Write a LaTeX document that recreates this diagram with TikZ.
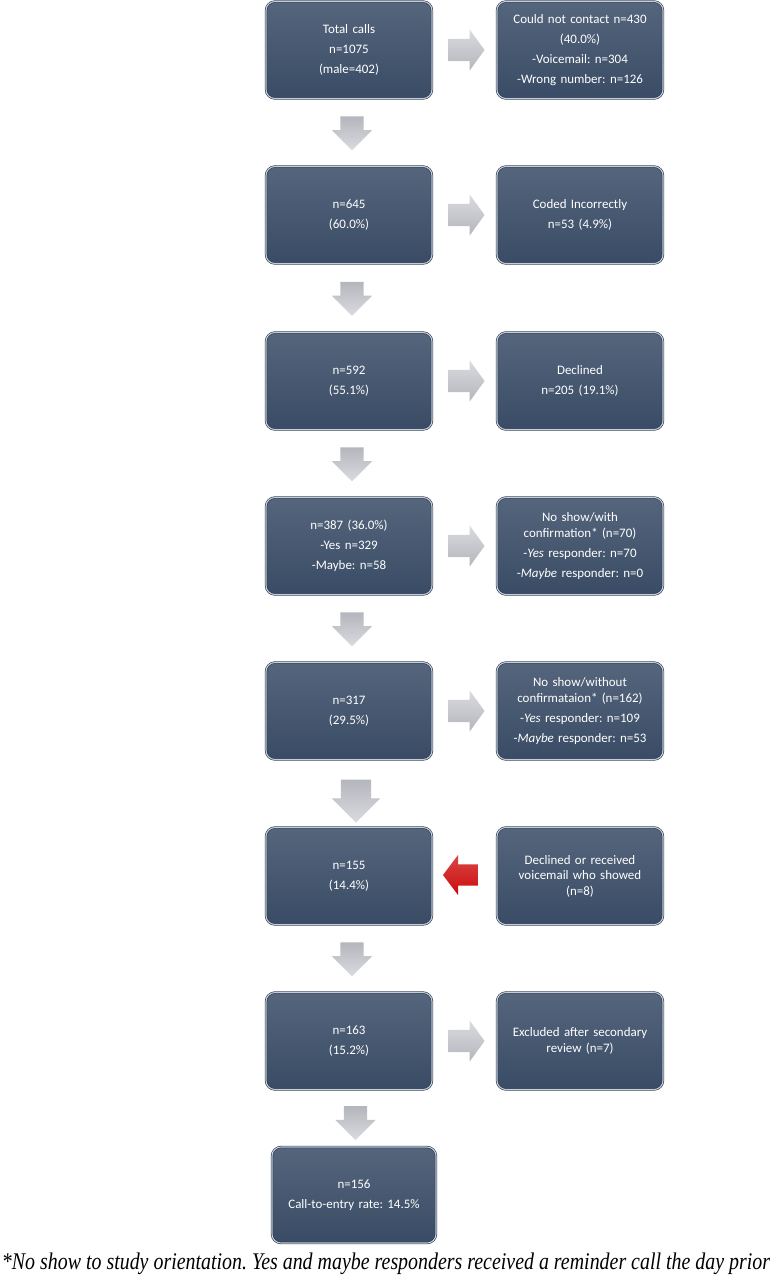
\documentclass[tikz,border=0pt]{standalone}
\usepackage{fontspec}
\setmainfont{Carlito}
\newfontfamily\notefont{Liberation Serif}
\usepackage{tikz}
\usetikzlibrary{shapes.arrows, calc, positioning}
\frenchspacing

\definecolor{boxtop}{RGB}{84,101,124}
\definecolor{boxbot}{RGB}{58,76,101}
\definecolor{boxrim}{RGB}{38,52,74}
\definecolor{boxshine}{RGB}{196,206,218}
\definecolor{arrlight}{RGB}{218,219,223}
\definecolor{arrdark}{RGB}{180,182,189}
\definecolor{arrred}{RGB}{204,10,10}

\begin{document}
\begin{tikzpicture}[x=1bp, y=-1bp,
  box/.style={rounded corners=9bp, top color=boxtop, bottom color=boxbot,
    draw=boxrim, double=boxshine, double distance=1.1bp, line width=0.6bp,
    minimum width=166bp, minimum height=97bp, text width=158bp, align=center,
    text=white, inner sep=0pt, font=\fontsize{13}{15.5}\selectfont},
  rarrow/.style={single arrow, inner xsep=0pt, inner ysep=11bp, minimum height=36bp,
    single arrow head extend=9.5bp, single arrow tip angle=108,
    top color=arrlight, bottom color=arrdark},
  darrow/.style={single arrow, rotate=-90, inner xsep=0pt, inner ysep=11.5bp,
    minimum height=34bp, single arrow head extend=8.5bp, single arrow tip angle=90,
    top color=arrdark, bottom color=arrlight},
  redarrow/.style={single arrow, rotate=180, inner xsep=0pt, inner ysep=10.5bp,
    minimum height=35bp, single arrow head extend=9.5bp, single arrow tip angle=106,
    top color=arrred!75, bottom color=arrred}
]
  \useasboundingbox (0,0) rectangle (772,1280);

  % main column
  \node[box] (l1) at (349,50) {Total calls\\[4.5bp]n=1075\\[4.5bp](male=402)};
  \node[box] (l2) at (349,215) {n=645\\[4.5bp](60.0\%)};
  \node[box] (l3) at (349,381) {n=592\\[4.5bp](55.1\%)};
  \node[box] (l4) at (349,546) {n=387 (36.0\%)\\[4.5bp]-Yes n=329\\[4.5bp]-Maybe: n=58};
  \node[box] (l5) at (349,711) {n=317\\[4.5bp](29.5\%)};
  \node[box] (l6) at (349,876) {n=155\\[4.5bp](14.4\%)};
  \node[box] (l7) at (349,1041) {n=163\\[4.5bp](15.2\%)};
  \node[box, minimum width=164bp, minimum height=96bp] (fin) at (354,1195)
    {n=156\\[4.5bp]Call-to-entry rate: 14.5\%};

  % side column
  \node[box] (r1) at (580,50) {Could not contact n=430\\[4.5bp](40.0\%)\\[4.5bp]-Voicemail: n=304\\[4.5bp]-Wrong number: n=126};
  \node[box] (r2) at (580,215) {Coded Incorrectly\\[4.5bp]n=53 (4.9\%)};
  \node[box] (r3) at (580,381) {Declined\\[4.5bp]n=205 (19.1\%)};
  \node[box] (r4) at (580,546) {No show/with\\confirmation* (n=70)\\[4.5bp]-\textit{Yes} responder: n=70\\[4.5bp]-\textit{Maybe} responder: n=0};
  \node[box] (r5) at (580,711) {No show/without\\confirmataion* (n=162)\\[4.5bp]-\textit{Yes} responder: n=109\\[4.5bp]-\textit{Maybe} responder: n=53};
  \node[box] (r6) at (580,876) {Declined or received\\voicemail who showed\\(n=8)};
  \node[box] (r7) at (580,1041) {Excluded after secondary\\review (n=7)};

  % down arrows
  \node[darrow] (d1) at ($(l1.south)!0.5!(l2.north)+(3,-5)$) {};
  \node[darrow] (d2) at ($(l2.south)!0.5!(l3.north)+(3,-5)$) {};
  \node[darrow] (d3) at ($(l3.south)!0.5!(l4.north)+(3,-5)$) {};
  \node[darrow] (d4) at ($(l4.south)!0.5!(l5.north)+(3,-5)$) {};
  \node[darrow, inner ysep=15bp, minimum height=43bp, single arrow head extend=9bp] (d5) at ($(l5.south)!0.5!(l6.north)+(7,0)$) {};
  \node[darrow] (d6) at ($(l6.south)!0.5!(l7.north)+(3,-5)$) {};
  \node[darrow] (d7) at ($(l7.south)!0.5!(fin.north)+(4,-1)$) {};

  % side arrows
  \node[rarrow] (s1) at ($(l1.east)!0.5!(r1.west)+(-2,0)$) {};
  \node[rarrow] (s2) at ($(l2.east)!0.5!(r2.west)+(-2,0)$) {};
  \node[rarrow] (s3) at ($(l3.east)!0.5!(r3.west)+(-2,0)$) {};
  \node[rarrow] (s4) at ($(l4.east)!0.5!(r4.west)+(-2,0)$) {};
  \node[rarrow] (s5) at ($(l5.east)!0.5!(r5.west)+(-2,0)$) {};
  \node[redarrow] (s6) at ($(r6.west)!0.5!(l6.east)+(0,-1)$) {};
  \node[rarrow] (s7) at ($(l7.east)!0.5!(r7.west)+(-2,0)$) {};

  % footnote
  \node[font=\notefont\itshape\fontsize{19.5}{22}\selectfont, inner sep=0pt] (note) at (386,1264)
    {\scalebox{1}[1.2]{\resizebox{768bp}{!}{*No show to study orientation. Yes and maybe responders received a reminder call the day prior}}};
\end{tikzpicture}
\end{document}
